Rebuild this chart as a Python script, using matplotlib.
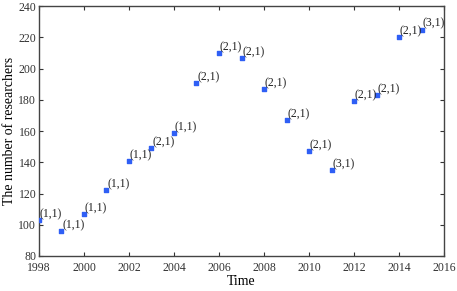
import matplotlib
matplotlib.use('Agg')
import matplotlib.pyplot as plt

years = [1998, 1999, 2000, 2001, 2002, 2003, 2004, 2005, 2006,
         2007, 2008, 2009, 2010, 2011, 2012, 2013, 2014, 2015]
researchers = [103, 96, 107, 122, 141, 149, 159, 191, 210,
               207, 187, 167, 147, 135, 179, 183, 220, 225]
labels = ['(1,1)', '(1,1)', '(1,1)', '(1,1)', '(1,1)', '(2,1)', '(1,1)', '(2,1)', '(2,1)',
          '(2,1)', '(2,1)', '(2,1)', '(2,1)', '(3,1)', '(2,1)', '(2,1)', '(2,1)', '(3,1)']

plt.rcParams['font.family'] = ['Liberation Serif', 'DejaVu Serif']

fig = plt.figure(figsize=(4.57, 2.91), dpi=100)
ax = fig.add_axes([0.0853, 0.1203, 0.8863, 0.8587])

ax.scatter(years, researchers, marker='s', s=12, color='#2f5ff5', zorder=3)
for x, y, t in zip(years, researchers, labels):
    ax.annotate(t, (x, y), xytext=(0.5, 2), textcoords='offset points',
                fontsize=8.5, color='#222222')

ax.set_xlim(1998, 2016)
ax.set_ylim(80, 240)
ax.set_xticks(range(1998, 2017, 2))
ax.set_yticks(range(80, 241, 20))
ax.tick_params(direction='in', top=True, right=True, labelsize=8.5,
               length=3, width=0.8, colors='#333333', pad=2)
ax.tick_params(axis='x', pad=4)
for s in ax.spines.values():
    s.set_color('#444444')
    s.set_linewidth(1.0)

ax.set_xlabel('Time', fontsize=10, labelpad=1)
ax.set_ylabel('The number of researchers', fontsize=10, labelpad=2)

fig.savefig('out.png', dpi=100)
